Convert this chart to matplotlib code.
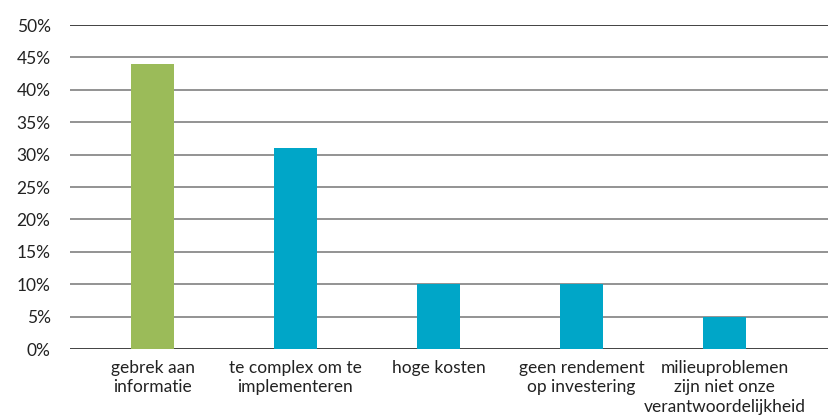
import matplotlib
matplotlib.use("Agg")
import matplotlib.pyplot as plt
from matplotlib.ticker import FuncFormatter

categories = ["gebrek aan\ninformatie", "te complex om te\nimplementeren", "hoge kosten",
              "geen rendement\nop investering", "milieuproblemen\nzijn niet onze\nverantwoordelijkheid"]
values = [44, 31, 10, 10, 5]
colors = ["#9BBB59", "#00A6C8", "#00A6C8", "#00A6C8", "#00A6C8"]
yticks = [0, 5, 10, 15, 20, 25, 30, 35, 40, 45, 50]

plt.rcParams['font.family'] = ['Lato', 'DejaVu Sans']

fig = plt.figure(figsize=(8.29, 4.2), dpi=100)
ax = fig.add_axes([70/829, 71/420, 1 - 70/829, (349-25)/420])

x = list(range(len(categories)))
ax.bar(x, values, width=0.30, color=colors, zorder=3)
ax.set_ylim(0, 50)
ax.set_xlim(-0.577, 4.731)
ax.set_yticks(yticks)
ax.yaxis.set_major_formatter(FuncFormatter(lambda v, p: f"{int(v)}%"))
ax.set_xticks(x)
ax.set_xticklabels(categories, linespacing=1.25)
ax.tick_params(axis='both', length=0, labelsize=12.5, colors='#222222')
ax.tick_params(axis='y', pad=14)
ax.tick_params(axis='x', pad=8)
for s in ax.spines.values():
    s.set_visible(False)
for t in yticks:
    ax.axhline(t, color='#333333' if t in (0, 50) else '#8a8a8a', lw=1.3, zorder=1)

fig.savefig("out.png", dpi=100)
